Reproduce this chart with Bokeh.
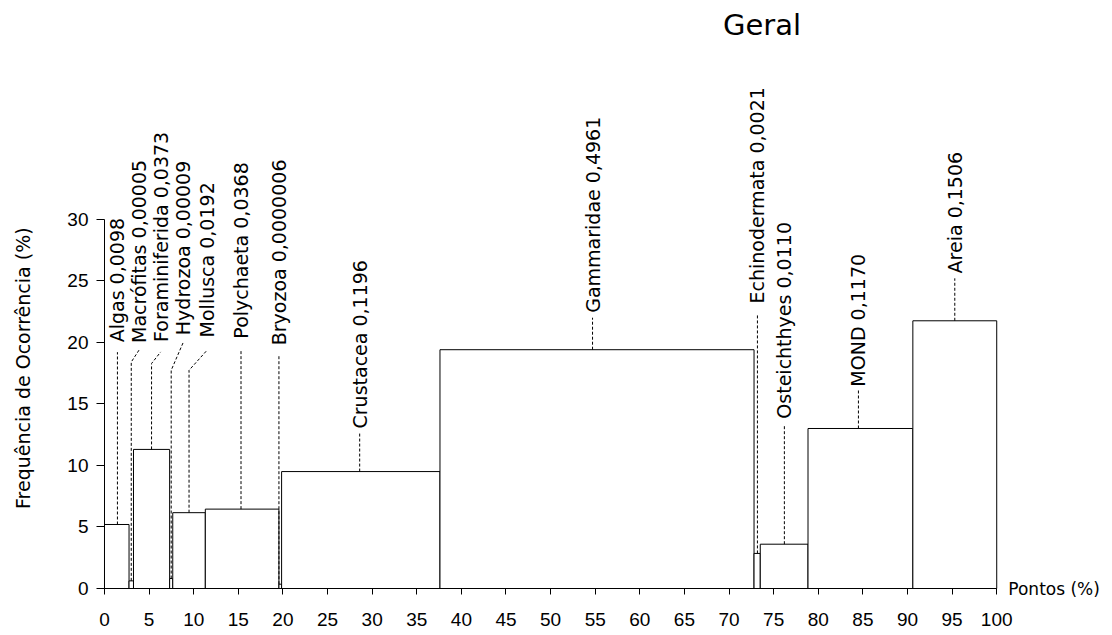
import numpy as np
from bokeh.plotting import figure
from bokeh.models import ColumnDataSource, Range1d, FixedTicker
from bokeh.core.properties import value
from bokeh.embed import file_html
from bokeh.resources import INLINE

# ---- data ----
categories = ["Algas", "Macrófitas", "Foraminiferida", "Hydrozoa", "Mollusca",
              "Polychaeta", "Bryozoa", "Crustacea", "Gammaridae", "Echinodermata",
              "Osteichthyes", "MOND", "Areia"]
index_labels = ["0,0098", "0,00005", "0,0373", "0,00009", "0,0192", "0,0368",
                "0,0000006", "0,1196", "0,4961", "0,0021", "0,0110", "0,1170", "0,1506"]
points_pct = [2.75, 0.5, 4.05, 0.35, 3.65, 8.25, 0.3, 17.75, 35.2, 0.7, 5.35, 11.75, 9.4]
freq_pct = [5.2, 0.62, 11.3, 0.81, 6.16, 6.45, 0.35, 9.5, 19.4, 2.85, 3.6, 13.0, 21.75]
x_ticks = list(range(0, 101, 5))
y_ticks = list(range(0, 31, 5))
title_text = "Geral"
x_title = "Pontos (%)"
y_title = "Frequência de Ocorrência (%)"

# ---- label layout (leader lines) ----
label_x = [1.45, 3.9, 6.3, 8.8, 11.5, 15.3, 19.55, 28.6, 54.7, 73.18, 76.2, 84.5, 95.3]
bend_y = [None, 18.4, 18.28, 17.73, 17.73, None, None, None, None, None, None, None, None]
end_y = [19.2, 19.4, 19.22, 19.95, 19.36, 19.36, 18.87, 12.6, 22.0, 22.2, 13.3, 16.1, 25.2]
text_y = [20.0, 19.95, 20.03, 20.58, 20.4, 20.3, 19.76, 13.0, 22.4, 23.15, 13.8, 16.4, 25.6]

widths = np.array(points_pct)
right = np.cumsum(widths)
left = right - widths
center = (left + right) / 2

p = figure(width=1104, height=635,
           x_range=Range1d(-11.656, 112.08), y_range=Range1d(-3.818, 47.77),
           output_backend="svg", toolbar_location=None,
           min_border_left=0, min_border_right=0, min_border_top=0,
           min_border_bottom=0)
p.xgrid.visible = False
p.ygrid.visible = False
p.outline_line_color = None
p.background_fill_color = "white"

src = ColumnDataSource(dict(left=left, right=right, top=freq_pct,
                            bottom=[0] * len(freq_pct)))
p.quad(left="left", right="right", bottom="bottom", top="top", source=src,
       fill_color="white", line_color="black", line_width=1)

xs, ys = [], []
for i in range(len(categories)):
    if bend_y[i] is None:
        xs.append([label_x[i], label_x[i]])
        ys.append([freq_pct[i], end_y[i]])
    else:
        xs.append([center[i], center[i], label_x[i]])
        ys.append([freq_pct[i], bend_y[i], end_y[i]])
p.multi_line(xs=xs, ys=ys, line_color="black", line_width=1, line_dash="3 2")

lab_src = ColumnDataSource(dict(x=label_x, y=text_y,
                                text=[f"{c} {v}" for c, v in zip(categories, index_labels)]))
p.text(x="x", y="y", text="text", source=lab_src, angle=np.pi / 2,
       text_align="left", text_baseline="middle",
       text_font=value("DejaVu Sans"), text_font_size=value("19px"), text_color="black")

# chart title
p.text(x=[73.7], y=[45.76], text=[title_text], text_align="center",
       text_baseline="middle", text_font=value("DejaVu Sans"),
       text_font_size=value("29px"), text_color="black")

# y-axis title
p.text(x=[-9.1], y=[17.9], text=[y_title], angle=np.pi / 2, text_align="center",
       text_baseline="middle", text_font=value("DejaVu Sans"),
       text_font_size=value("19px"), text_color="black")

# x-axis title, at the level of the x axis, right of its end
p.text(x=[101.3], y=[0], text=[x_title], text_align="left",
       text_baseline="middle", text_font=value("DejaVu Sans"),
       text_font_size=value("17px"), text_color="black")

for ax in (p.xaxis[0], p.yaxis[0]):
    ax.axis_line_color = "black"
    ax.major_tick_line_color = "black"
    ax.minor_tick_line_color = None
    ax.major_tick_in = 0
    ax.major_label_text_color = "black"
    ax.major_label_text_font = "Liberation Sans"
    ax.major_label_text_font_size = "19px"
    ax.fixed_location = 0

p.xaxis[0].ticker = FixedTicker(ticks=x_ticks)
p.xaxis[0].bounds = (0, 100)
p.xaxis[0].major_tick_out = 6
p.xaxis[0].major_label_standoff = 18

p.yaxis[0].ticker = FixedTicker(ticks=y_ticks)
p.yaxis[0].bounds = (0, 30)
p.yaxis[0].major_tick_out = 8
p.yaxis[0].major_label_standoff = 8

open("out.html", "w").write(file_html(p, INLINE))
